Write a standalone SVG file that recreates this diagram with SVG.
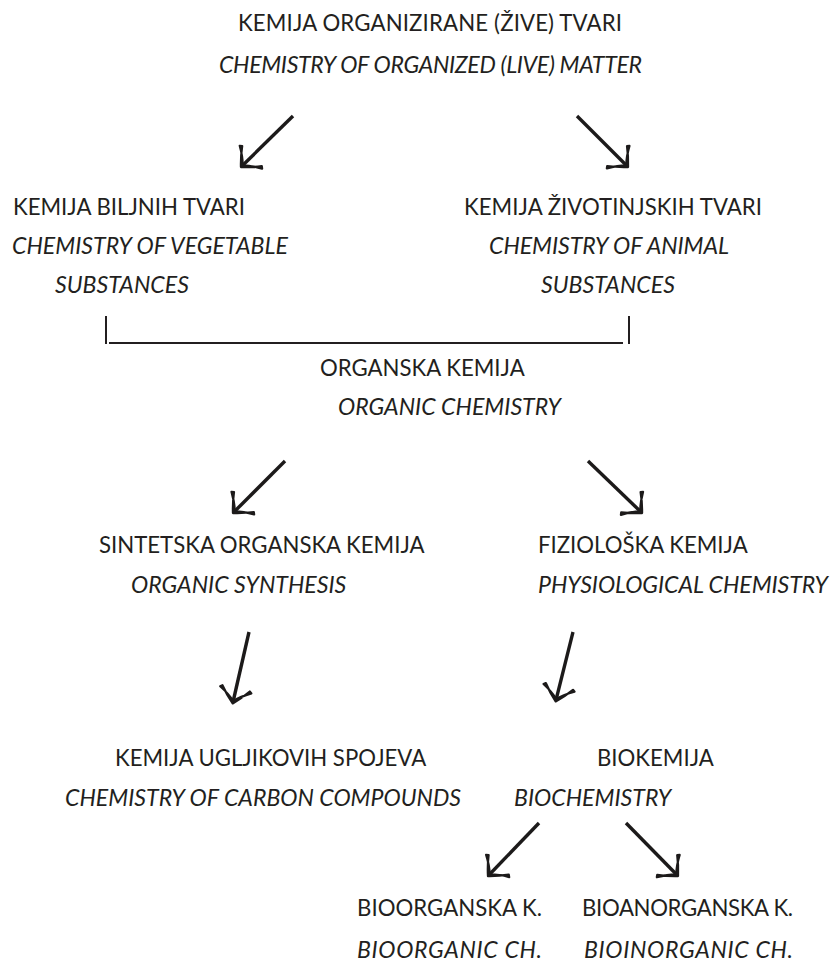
<svg xmlns="http://www.w3.org/2000/svg" width="831" height="967" viewBox="0 0 831 967">
<defs>
<style>
text{font-family:Lato,"Open Sans","Liberation Sans",sans-serif;font-size:22.2px;font-weight:400;fill:#231f20}
.it{font-style:italic;font-size:23.1px}
.conn line{stroke:#1c1a1a;stroke-width:3.4;fill:none}
.br line{stroke:#231f20;stroke-width:2}
</style>
<marker id="ah" markerUnits="userSpaceOnUse" markerWidth="40" markerHeight="40" viewBox="-20 -20 40 40" refX="0" refY="0" orient="auto" overflow="visible">
<path d="M1.5,0 Q-6,-8 -14,-14 L-12.5,-16 Q-7,-6 -1,0 Q-7,6 -12.5,16 L-14,14 Q-6,8 1.5,0 Z" fill="#1c1a1a" stroke="#1c1a1a" stroke-width="2.2" stroke-linejoin="round"/>
</marker>
</defs>
<rect width="831" height="967" fill="#fff"/>
<g id="n-top">
<text x="238" y="31" textLength="384">KEMIJA ORGANIZIRANE (ŽIVE) TVARI</text>
<text class="it" x="219" y="73" textLength="423">CHEMISTRY OF ORGANIZED (LIVE) MATTER</text>
</g>
<g id="n-veg">
<text x="13" y="215">KEMIJA BILJNIH TVARI</text>
<text class="it" x="12" y="254">CHEMISTRY OF VEGETABLE</text>
<text class="it" x="55" y="293">SUBSTANCES</text>
</g>
<g id="n-animal">
<text x="464" y="215" textLength="298">KEMIJA ŽIVOTINJSKIH TVARI</text>
<text class="it" x="489" y="254" textLength="240">CHEMISTRY OF ANIMAL</text>
<text class="it" x="541" y="293">SUBSTANCES</text>
</g>
<g id="n-organic">
<text x="320" y="376">ORGANSKA KEMIJA</text>
<text class="it" x="338" y="415">ORGANIC CHEMISTRY</text>
</g>
<g id="n-synth">
<text x="99" y="553">SINTETSKA ORGANSKA KEMIJA</text>
<text class="it" x="131" y="593">ORGANIC SYNTHESIS</text>
</g>
<g id="n-phys">
<text x="538" y="553">FIZIOLOŠKA KEMIJA</text>
<text class="it" x="538" y="593" textLength="290">PHYSIOLOGICAL CHEMISTRY</text>
</g>
<g id="n-carbon">
<text x="115" y="766">KEMIJA UGLJIKOVIH SPOJEVA</text>
<text class="it" x="65" y="806">CHEMISTRY OF CARBON COMPOUNDS</text>
</g>
<g id="n-bio">
<text x="597" y="766">BIOKEMIJA</text>
<text class="it" x="514" y="806">BIOCHEMISTRY</text>
</g>
<g id="n-bioorg">
<text x="357" y="916" textLength="185">BIOORGANSKA K.</text>
<text class="it" x="357" y="958" textLength="185">BIOORGANIC CH.</text>
</g>
<g id="n-bioinorg">
<text x="582" y="916" textLength="211">BIOANORGANSKA K.</text>
<text class="it" x="584" y="958" textLength="209">BIOINORGANIC CH.</text>
</g>
<g id="connectors" class="conn">
<line x1="293" y1="116" x2="242" y2="166" marker-end="url(#ah)"/>
<line x1="577" y1="116" x2="627" y2="166" marker-end="url(#ah)"/>
<line x1="285" y1="461" x2="234" y2="512" marker-end="url(#ah)"/>
<line x1="588" y1="461" x2="641" y2="512" marker-end="url(#ah)"/>
<line x1="249" y1="632" x2="233" y2="702" marker-end="url(#ah)"/>
<line x1="573" y1="632" x2="556" y2="700" marker-end="url(#ah)"/>
<line x1="539" y1="823" x2="489" y2="875" marker-end="url(#ah)"/>
<line x1="626" y1="823" x2="677" y2="875" marker-end="url(#ah)"/>
<g class="br">
<line x1="106" y1="316" x2="106" y2="344"/>
<line x1="109" y1="343" x2="623" y2="343"/>
<line x1="629" y1="316" x2="629" y2="344"/>
</g>
</g>
</svg>
